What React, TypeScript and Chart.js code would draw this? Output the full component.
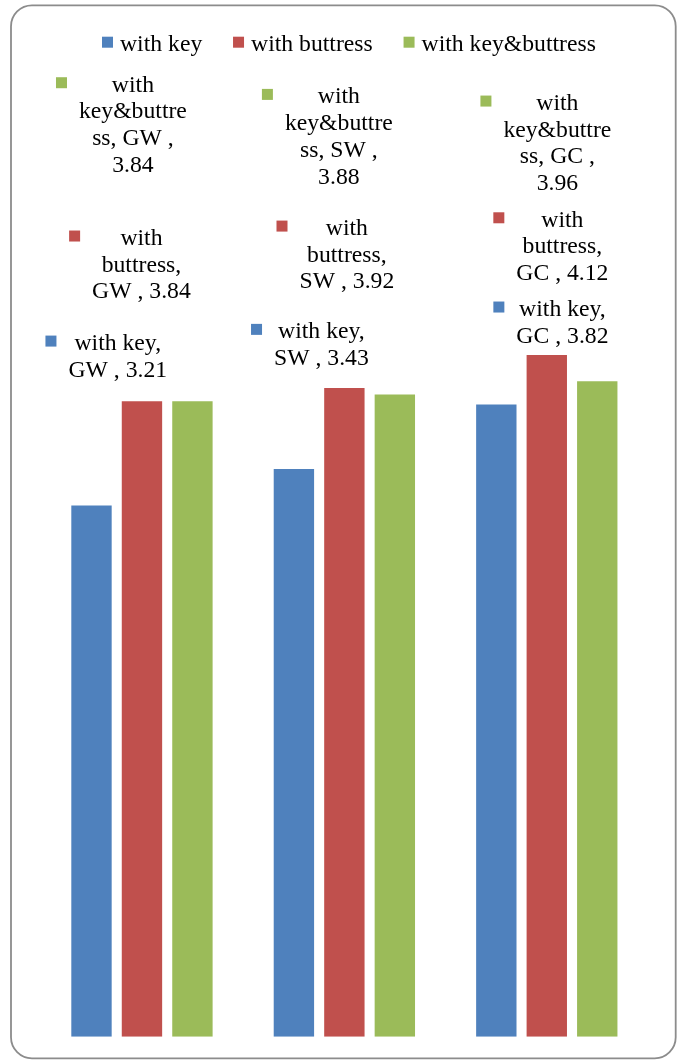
import React, { useEffect, useRef } from "react";
import { Chart, registerables } from "chart.js";

Chart.register(...registerables);

// Chart data
const categories = ["GW", "SW", "GC"];
const seriesNames = ["with key", "with buttress", "with key&buttress"];
const withKey = [3.21, 3.43, 3.82];
const withButtress = [3.84, 3.92, 4.12];
const withKeyButtress = [3.84, 3.88, 3.96];
const seriesColors = ["#4F81BD", "#C0504D", "#9BBB59"];

// Hand-placed data label offsets [dx, dy] from each bar's top centre, per series / category
const labelOffsets: number[][][] = [
  [[26.3, -155.4], [27.5, -130.7], [66.1, -88.5]],
  [[-0.5, -156.2], [2.5, -152.9], [15.6, -128.1]],
  [[-59.5, -309.5], [-56, -291.2], [-39.9, -271.3]],
];

const FONT = '23.7px "Liberation Serif", "Times New Roman", serif';
const LINE_H = 26.7;
const WRAP_W = 112;

function wrapText(ctx: CanvasRenderingContext2D, text: string, maxW: number): string[] {
  const words = text.split(" ");
  const lines: string[] = [];
  let cur = "";
  for (const w of words) {
    const trial = cur ? cur + " " + w : w;
    if (ctx.measureText(trial).width <= maxW) {
      cur = trial;
      continue;
    }
    if (cur) lines.push(cur);
    cur = w;
    // break over-long words by characters
    while (ctx.measureText(cur).width > maxW) {
      let k = cur.length;
      while (k > 1 && ctx.measureText(cur.slice(0, k)).width > maxW) k--;
      lines.push(cur.slice(0, k));
      cur = cur.slice(k);
    }
  }
  if (cur) lines.push(cur);
  return lines;
}

function roundRect(ctx: CanvasRenderingContext2D, x: number, y: number, w: number, h: number, r: number) {
  ctx.beginPath();
  ctx.moveTo(x + r, y);
  ctx.lineTo(x + w - r, y);
  ctx.arcTo(x + w, y, x + w, y + r, r);
  ctx.lineTo(x + w, y + h - r);
  ctx.arcTo(x + w, y + h, x + w - r, y + h, r);
  ctx.lineTo(x + r, y + h);
  ctx.arcTo(x, y + h, x, y + h - r, r);
  ctx.lineTo(x, y + r);
  ctx.arcTo(x, y, x + r, y, r);
  ctx.closePath();
}

const framePlugin = {
  id: "frameAndLabels",
  beforeDraw(chart: any) {
    const ctx: CanvasRenderingContext2D = chart.ctx;
    ctx.save();
    ctx.fillStyle = "#ffffff";
    ctx.fillRect(0, 0, chart.width, chart.height);
    roundRect(ctx, 11, 5.3, 664.7, 1053, 21);
    ctx.strokeStyle = "#8c8c8c";
    ctx.lineWidth = 1.8;
    ctx.stroke();
    ctx.restore();
  },
  afterDatasetsDraw(chart: any) {
    const ctx: CanvasRenderingContext2D = chart.ctx;
    ctx.save();
    ctx.font = FONT;
    ctx.fillStyle = "#000000";
    ctx.textBaseline = "alphabetic";

    // legend
    let lx = 102;
    chart.data.datasets.forEach((ds: any) => {
      ctx.fillStyle = ds.backgroundColor;
      ctx.fillRect(lx, 36.7, 11, 11);
      ctx.fillStyle = "#000000";
      ctx.textAlign = "left";
      ctx.fillText(ds.label, lx + 18, 50.7);
      lx += 18 + ctx.measureText(ds.label).width + 30.8;
    });

    // data labels with legend keys
    chart.data.datasets.forEach((ds: any, i: number) => {
      const meta = chart.getDatasetMeta(i);
      meta.data.forEach((bar: any, j: number) => {
        const value = ds.data[j] as number;
        const text = `${ds.label}, ${chart.data.labels[j]} , ${value.toFixed(2)}`;
        const lines = wrapText(ctx, text, WRAP_W);
        const [dx, dy] = labelOffsets[i][j];
        const cx = bar.x + dx;
        const y0 = bar.y + dy;
        const widest = Math.max(...lines.map((l) => ctx.measureText(l).width));
        ctx.fillStyle = ds.backgroundColor;
        ctx.fillRect(cx - widest / 2 - 12 - 11, y0 - 14.5, 11, 11);
        ctx.fillStyle = "#000000";
        ctx.textAlign = "center";
        lines.forEach((l, k) => ctx.fillText(l, cx, y0 + k * LINE_H));
      });
    });
    ctx.restore();
  },
};

export default function App() {
  const canvasRef = useRef<HTMLCanvasElement | null>(null);

  useEffect(() => {
    if (!canvasRef.current) return;
    const seriesValues = [withKey, withButtress, withKeyButtress];
    const chart = new Chart(canvasRef.current, {
      type: "bar",
      data: {
        labels: categories,
        datasets: seriesNames.map((name, i) => ({
          label: name,
          data: seriesValues[i],
          backgroundColor: seriesColors[i],
          borderWidth: 0,
          categoryPercentage: 0.748,
          barPercentage: 0.8,
        })),
      },
      options: {
        responsive: false,
        animation: false,
        devicePixelRatio: 1,
        layout: { padding: { left: 40.75, right: 31, top: 292, bottom: 23.3 } },
        scales: {
          x: { display: false },
          y: { display: false, min: 0, max: 4.5 },
        },
        plugins: {
          legend: { display: false },
          tooltip: { enabled: false },
        },
      },
      plugins: [framePlugin],
    });
    return () => chart.destroy();
  }, []);

  return (
    <div style={{ position: "absolute", left: 0, top: 0, width: 679, height: 1060 }}>
      <canvas ref={canvasRef} width={679} height={1060} style={{ display: "block" }} />
    </div>
  );
}
